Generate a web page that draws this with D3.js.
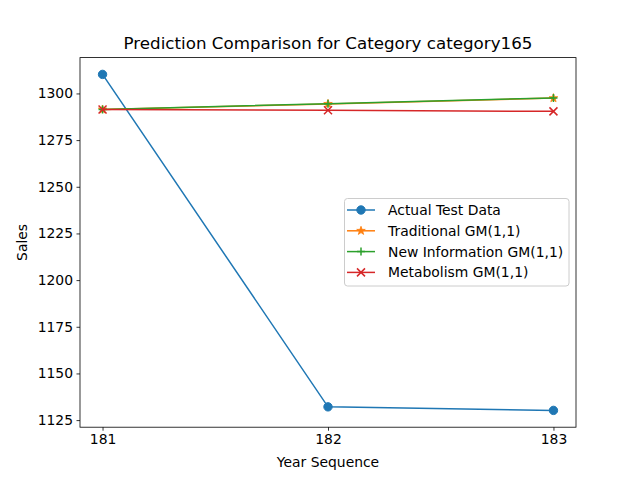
<!DOCTYPE html>
<html><head><meta charset="utf-8">
<script src="https://cdn.jsdelivr.net/npm/d3@7"></script>
<style>body{margin:0;background:#fff}svg{display:block;font-family:"DejaVu Sans",sans-serif}</style>
</head><body>
<script>
const years = [181, 182, 183];
const actual = [1310.2, 1132.1, 1130.2];
const traditional = [1291.4, 1294.4, 1297.5];
const newInfo = [1291.4, 1294.5, 1297.6];
const metabolism = [1291.4, 1291.0, 1290.4];
const yTicks = [1125, 1150, 1175, 1200, 1225, 1250, 1275, 1300];
const seriesNames = ["Actual Test Data", "Traditional GM(1,1)", "New Information GM(1,1)", "Metabolism GM(1,1)"];
const colors = ["#1f77b4", "#ff7f0e", "#2ca02c", "#d62728"];
const markers = ["circle", "star", "plus", "x"];

const W = 640, H = 480;
const L = 80, R = 576, T = 57.6, B = 427.2;
const svg = d3.select("body").append("svg").attr("width", W).attr("height", H);

const x = d3.scaleLinear().domain([180.9, 183.1]).range([L, R]);
const allY = actual.concat(traditional, newInfo, metabolism);
const ymin = d3.min(allY), ymax = d3.max(allY), pad = (ymax - ymin) * 0.05;
const y = d3.scaleLinear().domain([ymin - pad, ymax + pad]).range([B, T]);

const series = [actual, traditional, newInfo, metabolism];

function drawMarker(g, type, cx, cy, color) {
  if (type === "circle") {
    g.append("circle").attr("cx", cx).attr("cy", cy).attr("r", 4.2).attr("fill", color).attr("stroke", color);
  } else if (type === "star") {
    const pts = [];
    const ro = 4.5, ri = 1.8;
    for (let i = 0; i < 10; i++) {
      const a = -Math.PI / 2 + i * Math.PI / 5;
      const r = i % 2 === 0 ? ro : ri;
      pts.push([cx + r * Math.cos(a), cy + r * Math.sin(a)]);
    }
    g.append("polygon").attr("points", pts.map(p => p.join(",")).join(" ")).attr("fill", color).attr("stroke", color).attr("stroke-width", 0.8);
  } else if (type === "plus") {
    g.append("path").attr("d", `M${cx-4},${cy}H${cx+4}M${cx},${cy-4}V${cy+4}`).attr("stroke", color).attr("stroke-width", 1.5).attr("fill", "none");
  } else if (type === "x") {
    g.append("path").attr("d", `M${cx-4},${cy-4}L${cx+4},${cy+4}M${cx-4},${cy+4}L${cx+4},${cy-4}`).attr("stroke", color).attr("stroke-width", 1.5).attr("fill", "none");
  }
}

const plot = svg.append("g");
const line = d3.line().x((d, i) => x(years[i])).y(d => y(d));
series.forEach((s, k) => {
  const g = plot.append("g");
  g.append("path").attr("d", line(s)).attr("fill", "none").attr("stroke", colors[k]).attr("stroke-width", 1.5);
  s.forEach((v, i) => drawMarker(g, markers[k], x(years[i]), y(v), colors[k]));
});

// frame
svg.append("rect").attr("x", L).attr("y", T).attr("width", R - L).attr("height", B - T)
  .attr("fill", "none").attr("stroke", "#000").attr("stroke-width", 0.8);

// axes
const xAxis = d3.axisBottom(x).tickValues(years).tickFormat(d3.format("d")).tickSize(3.5).tickPadding(3.5);
const gx = svg.append("g").attr("transform", `translate(0,${B})`).call(xAxis);
const yAxis = d3.axisLeft(y).tickValues(yTicks).tickFormat(d3.format("d")).tickSize(3.5).tickPadding(3.5);
const gy = svg.append("g").attr("transform", `translate(${L},0)`).call(yAxis);
[gx, gy].forEach(g => {
  g.select(".domain").remove();
  g.selectAll("text").attr("font-size", "13.9px").attr("font-family", "DejaVu Sans").attr("fill", "#000");
  g.selectAll("line").attr("stroke", "#000").attr("stroke-width", 0.8);
});

svg.append("text").attr("x", (L + R) / 2).attr("y", 49).attr("text-anchor", "middle")
  .attr("font-size", "16.7px").text("Prediction Comparison for Category category165");
svg.append("text").attr("x", (L + R) / 2).attr("y", 467).attr("text-anchor", "middle")
  .attr("font-size", "13.9px").text("Year Sequence");
svg.append("text").attr("transform", `translate(27,${(T + B) / 2}) rotate(-90)`).attr("text-anchor", "middle")
  .attr("font-size", "13.9px").text("Sales");

// legend
const lg = svg.append("g");
lg.append("rect").attr("x", 344.5).attr("y", 198.5).attr("width", 224.5).attr("height", 87.5).attr("rx", 3)
  .attr("fill", "#fff").attr("fill-opacity", 0.8).attr("stroke", "#cccccc").attr("stroke-width", 1);
seriesNames.forEach((n, k) => {
  const cy = 210 + k * 20.8;
  lg.append("line").attr("x1", 347).attr("x2", 375).attr("y1", cy).attr("y2", cy).attr("stroke", colors[k]).attr("stroke-width", 1.5);
  drawMarker(lg, markers[k], 361, cy, colors[k]);
  lg.append("text").attr("x", 388).attr("y", cy + 5).attr("font-size", "13.9px").text(n);
});
</script>
</body></html>
